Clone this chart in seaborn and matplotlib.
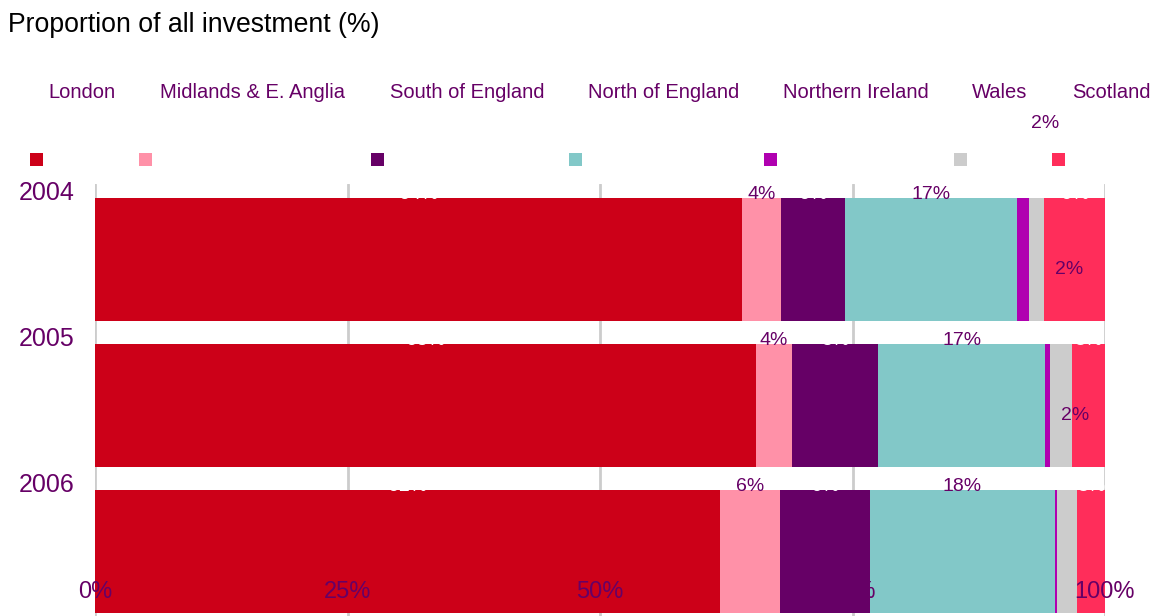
import numpy as np
import pandas as pd
import matplotlib
matplotlib.use("Agg")
import matplotlib.pyplot as plt
import matplotlib.transforms as mtransforms
from matplotlib.patches import Rectangle
import seaborn as sns

# ---- data ----
years = ["2004", "2005", "2006"]
regions = ["London", "Midlands & E. Anglia", "South of England", "North of England",
           "Northern Ireland", "Wales", "Scotland"]
london = [64.1, 65.4, 61.9]
midlands = [3.8, 3.6, 5.9]
south = [6.4, 8.5, 8.9]
north = [17.0, 16.6, 18.3]
n_ireland = [1.2, 0.5, 0.2]
wales = [1.5, 2.1, 2.0]
scotland = [6.0, 3.3, 2.8]
x_ticks = [0, 25, 50, 75, 100]
x_tick_labels = ["0%", "25%", "50%", "75%", "100%"]

colors = ["#CC0018", "#FF91A8", "#660066", "#82C8C8", "#B000B0", "#CCCCCC", "#FF2D5A"]
txt_purple = "#660066"

df = pd.DataFrame({"year": years, regions[0]: london, regions[1]: midlands,
                   regions[2]: south, regions[3]: north, regions[4]: n_ireland,
                   regions[5]: wales, regions[6]: scotland})
vals = df[regions].to_numpy()
cum = vals.cumsum(axis=1)

sns.set_style("white")
plt.rcParams["font.family"] = ["Liberation Sans", "DejaVu Sans"]

fig = plt.figure(figsize=(11.57, 6.16), dpi=100)
ax = fig.add_axes([95 / 1157, -0.0138, 1010 / 1157, 0.7151])

bar_h = 0.84
for j in reversed(range(len(regions))):
    sns.barplot(x=cum[:, j], y=df["year"], color=colors[j], width=bar_h,
                orient="h", ax=ax, saturation=1, linewidth=0, zorder=2)

ax.set_xlim(0, 100)
ax.set_ylim(2.5, -0.516)
ax.set_xticks(x_ticks)
ax.set_xticklabels([])
ax.set_yticks([])
ax.set_xlabel("")
ax.set_ylabel("")
ax.tick_params(length=0)
ax.xaxis.grid(True, color="#CCCCCC", lw=2)
ax.yaxis.grid(False)
ax.set_axisbelow(True)
for s in ax.spines.values():
    s.set_visible(False)

# x tick labels drawn inside the plot
trans_xa = mtransforms.blended_transform_factory(ax.transData, ax.transAxes)
for t, lab in zip(x_ticks, x_tick_labels):
    ax.text(t, 0.074, lab, transform=trans_xa, ha="center", va="center",
            color=txt_purple, fontsize=17, zorder=6, clip_on=False)

# year labels
trans_ay = mtransforms.blended_transform_factory(ax.transAxes, ax.transData)
for i, y in enumerate(years):
    ax.text(-0.0475, i - 0.455, y, transform=trans_ay, ha="center", va="center",
            color=txt_purple, fontsize=18)

# data labels
label_cols = [0, 1, 2, 3, 6]
white_cols = {0, 2, 6}
for i in range(len(years)):
    for j in label_cols:
        center = cum[i, j] - vals[i, j] / 2
        c = "white" if j in white_cols else txt_purple
        ax.text(center, i - bar_h / 2 + 0.005, f"{vals[i, j]:.0f}%", ha="center",
                va="baseline", color=c, fontsize=14, zorder=5, clip_on=False)
    # Wales labels (displaced upward)
    center = cum[i, 5] - vals[i, 5] / 2
    ax.text(center + 0.8, i - 0.93, f"{vals[i, 5]:.0f}%", ha="center", va="center",
            color=txt_purple, fontsize=14, zorder=5, clip_on=False)

# title
fig.text(8 / 1157, 1 - 25 / 616, "Proportion of all investment (%)", ha="left",
         va="center", fontsize=19.2, color="black")

# legend (names above, swatches below)
name_x = [82, 252, 467, 664, 856, 1000, 1111]
swatch_x = [36, 145, 377, 575, 770, 960, 1058]
for name, nx, sx, col in zip(regions, name_x, swatch_x, colors):
    fig.text(nx / 1157, 1 - 93 / 616, name, ha="center", va="center",
             fontsize=14.5, color=txt_purple)
    s = 13
    fig.add_artist(Rectangle(((sx - s / 2) / 1157, 1 - (159 + s / 2) / 616),
                             s / 1157, s / 616, transform=fig.transFigure,
                             facecolor=col, edgecolor="none"))

fig.savefig("out.png", dpi=100)
